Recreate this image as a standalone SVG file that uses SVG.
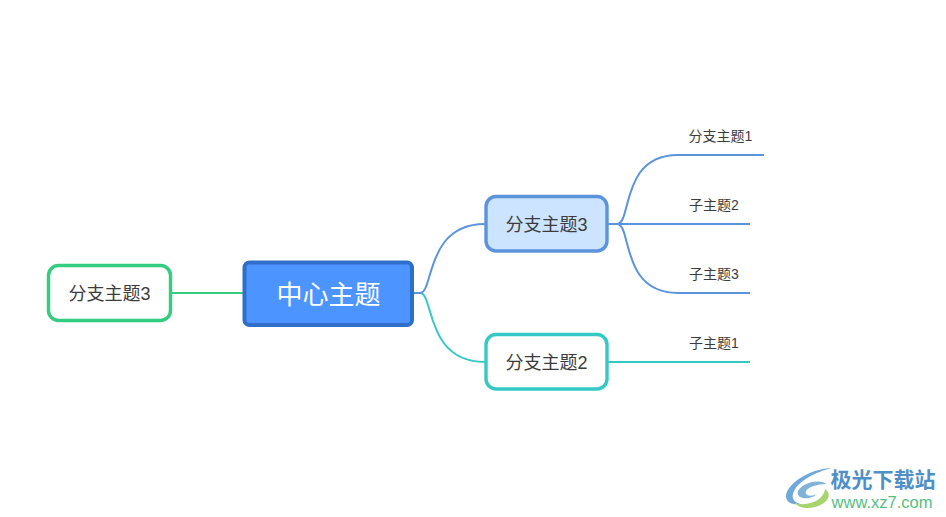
<svg xmlns="http://www.w3.org/2000/svg" width="946" height="517" viewBox="0 0 946 517">
<style>
text{font-family:"Liberation Sans","Noto Sans CJK SC",sans-serif;text-anchor:middle}
.t{fill:#3c3c3c;font-size:18px}
.s{fill:#3c3c3c;font-size:14px}
.c{fill:none;stroke-width:2}
.n{stroke-width:3.4}
.blue{stroke:#5b94dc}
.teal{stroke:#35c9c6}
.green{stroke:#33cc80}
</style>
<rect width="946" height="517" fill="#fff"/>
<g id="connectors">
<path class="c green" d="M172 293H243"/>
<path class="c teal" d="M413 293H420C434 293 425 362 485 362"/>
<path class="c blue" d="M413 293H420C434 293 425 224 485 224"/>
<path class="c blue" d="M608 224H617C632 224 620 155 678 155H764"/>
<path class="c blue" d="M608 224H750"/>
<path class="c blue" d="M617 224C632 224 620 293 678 293H750"/>
<path class="c teal" d="M608 362H750"/>
</g>
<g id="center"><rect x="244.500" y="262.500" width="167.500" height="62.500" rx="5" fill="#4c94ff" stroke="#2f6fc9" stroke-width="4"/><text x="328.500" y="304" font-size="26px" fill="#fff">中心主题</text></g>
<g id="branch3"><rect class="n blue" x="486" y="196.500" width="121" height="54.500" rx="10" fill="#cce4ff"/><text class="t" x="546.500" y="230.500">分支主题3</text></g>
<g id="branch2"><rect class="n teal" x="486" y="334.500" width="121" height="54.500" rx="10" fill="#fff"/><text class="t" x="546.500" y="368.500">分支主题2</text></g>
<g id="left-branch3"><rect class="n green" x="48.500" y="265.500" width="122" height="55" rx="10" fill="#fff"/><text class="t" x="109.500" y="299.500">分支主题3</text></g>
<g id="sub1"><text class="s" x="720.500" y="141">分支主题1</text></g>
<g id="sub2"><text class="s" x="714" y="210">子主题2</text></g>
<g id="sub3"><text class="s" x="714" y="279">子主题3</text></g>
<g id="sub4"><text class="s" x="714" y="348">子主题1</text></g>
<g id="watermark">
<path d="M832 468C808 469 787 484 786 496C786 503 793 505 800 504C793 502 791 497 794 491C799 481 815 472 832 468Z" fill="#6fa8dc"/>
<path d="M798 491C803 482 820 479 826 484C818 484 808 487 806 491C804 496 812 497 817 494C810 501 795 499 798 491Z" fill="#7fb4d8"/>
<path d="M795 503C808 507 824 500 825 489C834 495 826 507 808 508C802 508 797 506 795 503Z" fill="#a8d46f"/>
<text x="883" y="487" font-size="21px" font-weight="bold" fill="#4f8fc9">极光下载站</text>
<text x="882" y="508" font-size="16.500px" fill="#55c07f">www.xz7.com</text>
</g>
</svg>
